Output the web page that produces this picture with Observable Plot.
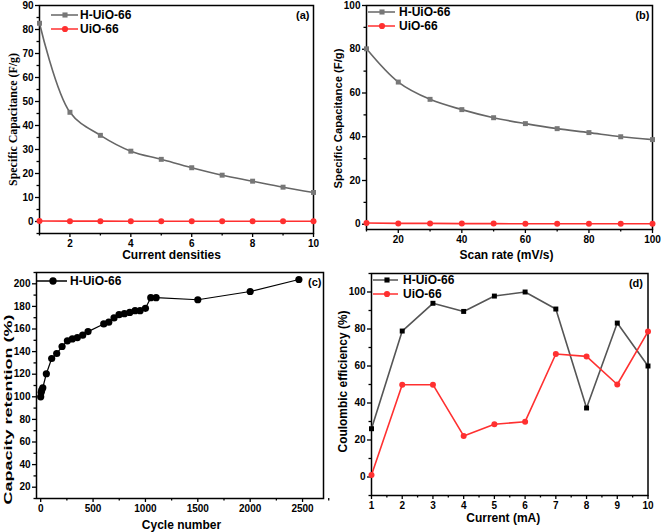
<!DOCTYPE html>
<html><head><meta charset="utf-8">
<script src="https://cdn.jsdelivr.net/npm/d3@7"></script>
<script src="https://cdn.jsdelivr.net/npm/@observablehq/plot@0.6"></script>
<style>
body{margin:0;background:#fff;}
#wrap{position:relative;width:661px;height:532px;overflow:hidden;background:#fff;}
.pane{position:absolute;}
</style></head>
<body><div id="wrap"></div>
<script>
// ---- data ----
const capX = [1,2,3,4,5,6,7,8,9,10];
const capH = [82.6,45.5,35.9,29.3,25.9,22.4,19.3,16.8,14.3,12.1];
const capU = [0.2,0.15,0.15,0.1,0.1,0.1,0.1,0.1,0.1,0.1];
const scanX = [10,20,30,40,50,60,70,80,90,100];
const scanH = [80.2,65,57.1,52.4,48.7,46,43.7,41.9,40,38.7];
const scanU = [0.6,0.4,0.4,0.3,0.3,0.2,0.2,0.2,0.2,0.2];
const cycN = [0,5,10,20,54,105,153,204,255,302,350,401,452,602,650,700,748,799,850,901,949,1000,1051,1102,1500,2000,2465];
const cycR = [100,104,106,108,120.4,133.9,138.3,144.5,149.5,151.2,152.4,154.5,157.7,164.5,166,169.8,172.7,173.6,174.7,176.2,176.2,178.3,187.7,187.7,185.9,193.2,203.8];
const ceX = [1,2,3,4,5,6,7,8,9,10];
const ceH = [26.1,78.9,93.9,89.5,97.8,100,90.8,37.3,83.2,60];
const ceU = [1.1,49.9,49.9,22.2,28.5,29.9,66.5,65.2,50,78.6];
const seriesNames = ["H-UiO-66","UiO-66"];

const GRAY = "#666", RED = "#ff3030";
const toRows = (xs, ys) => xs.map((x,i)=>({x, y: ys[i]}));
const fmt = d3.format("d");

function axes(xt, xm, yt, ym) {
  const common = {label: null, strokeWidth: 1.3, fontSize: 10, fontWeight: "bold"};
  return [
    Plot.axisX({...common, ticks: xt, tickSize: 4, tickPadding: 2, tickFormat: fmt}),
    Plot.axisX({...common, ticks: xm, tickSize: 2.5, tickFormat: () => ""}),
    Plot.axisY({...common, ticks: yt, tickSize: 4, tickPadding: 2, tickFormat: fmt}),
    Plot.axisY({...common, ticks: ym, tickSize: 2.5, tickFormat: () => ""}),
    Plot.frame({stroke: "black", strokeWidth: 1.5})
  ];
}
function legend(items, o) {
  return (index, scales, values, dims) => {
    const g = d3.create("svg:g");
    const L = dims.marginLeft, T = dims.marginTop;
    items.forEach((it, i) => {
      const y = T + o.y0 + i * o.row;
      g.append("line").attr("x1", L + o.x1).attr("x2", L + o.x2).attr("y1", y).attr("y2", y)
        .attr("stroke", it.line).attr("stroke-width", 1.5);
      g.append("path").attr("d", d3.symbol(it.sym === "square" ? d3.symbolSquare : d3.symbolCircle, it.size)())
        .attr("transform", `translate(${L + o.xm},${y})`).attr("fill", it.fill);
      g.append("text").attr("x", L + o.xt).attr("y", y).attr("dy", "0.36em").attr("text-anchor", "start")
        .attr("font-size", o.fs).attr("font-weight", "bold").attr("fill", "black").text(it.label);
    });
    return g.node();
  };
}
function ylab(t, dx, dy, fs, ff) {
  return Plot.text([t], {frameAnchor: "left", rotate: -90, dx, dy, fontSize: fs, fontWeight: "bold", fontFamily: ff || "Liberation Sans", lineAnchor: "middle", textAnchor: "middle"});
}
function xlab(t, dx, dy) {
  return Plot.text([t], {frameAnchor: "bottom", dx, dy, fontSize: 12, fontWeight: "bold", lineAnchor: "middle", textAnchor: "middle"});
}
function tag(t, dx, dy) {
  return Plot.text([t], {frameAnchor: "top-right", dx, dy, fontSize: 11, fontWeight: "bold", lineAnchor: "middle", textAnchor: "end"});
}
function place(svg, left, top) {
  const d = document.createElement("div");
  d.className = "pane"; d.style.left = left + "px"; d.style.top = top + "px";
  d.appendChild(svg); document.getElementById("wrap").appendChild(d);
}
// stretch a (rotated) label along its baseline to the length seen in the reference
function stretchTo(svg, t, len) {
  d3.select(svg).selectAll("text").filter(function(){ return this.textContent === t; }).each(function() {
    const natural = this.getComputedTextLength();
    if (!natural) return;
    const f = len / natural;
    const tr = this.getAttribute("transform") || "";
    this.setAttribute("transform", tr + ` scale(${f},1)`);
  });
}
const style = {fontFamily: "Liberation Sans", fontWeight: "bold", background: "transparent", overflow: "visible", color: "black"};
const range = (a, b, s) => d3.range(a, b + s / 2, s);

// ---- (a) ----
{
  const H = toRows(capX, capH), U = toRows(capX, capU);
  const svg = Plot.plot({
    width: 330, height: 262, marginLeft: 39, marginRight: 17, marginTop: 5, marginBottom: 29, style,
    x: {domain: [1, 10]}, y: {domain: [-5, 90]},
    marks: [
      ...axes([2,4,6,8,10], [1,3,5,7,9], range(0,90,10), range(-5,85,10)),
      Plot.line(H, {x: "x", y: "y", stroke: GRAY, strokeWidth: 1.6, curve: "catmull-rom"}),
      Plot.dot(H, {x: "x", y: "y", symbol: "square", r: 2.8, fill: "#777"}),
      Plot.line(U, {x: "x", y: "y", stroke: RED, strokeWidth: 1.6}),
      Plot.dot(U, {x: "x", y: "y", r: 3, fill: RED}),
      legend([{label: seriesNames[0], line: GRAY, fill: "#777", sym: "square", size: 26},
              {label: seriesNames[1], line: RED, fill: RED, sym: "circle", size: 30}],
             {x1: 12, x2: 39, xm: 26, xt: 41, y0: 10, row: 14, fs: 12}),
      tag("(a)", -4, 10),
      ylab("Specific Capacitance (F/g)", -26, 0, 12, "Liberation Serif"),
      xlab("Current densities", -5, 22)
    ]
  });
  place(svg, 0, 0);
  stretchTo(svg, "Specific Capacitance (F/g)", 133);
}
// ---- (b) ----
{
  const H = toRows(scanX, scanH), U = toRows(scanX, scanU);
  const svg = Plot.plot({
    width: 331, height: 262, marginLeft: 36, marginRight: 9, marginTop: 5, marginBottom: 33, style,
    x: {domain: [10, 100]}, y: {domain: [-2.4, 100]},
    marks: [
      ...axes(range(20,100,20), range(10,90,20), range(0,100,20), range(10,90,20)),
      Plot.line(H, {x: "x", y: "y", stroke: GRAY, strokeWidth: 1.6, curve: "catmull-rom"}),
      Plot.dot(H, {x: "x", y: "y", symbol: "square", r: 2.8, fill: "#777"}),
      Plot.line(U, {x: "x", y: "y", stroke: RED, strokeWidth: 1.6}),
      Plot.dot(U, {x: "x", y: "y", r: 3, fill: RED}),
      legend([{label: seriesNames[0], line: GRAY, fill: "#777", sym: "square", size: 26},
              {label: seriesNames[1], line: RED, fill: RED, sym: "circle", size: 30}],
             {x1: 2, x2: 29, xm: 16, xt: 33, y0: 7, row: 14, fs: 12}),
      tag("(b)", -3, 10),
      ylab("Specific Capacitance (F/g)", -28, 1, 11),
      xlab("Scan rate (mV/s)", -3, 26)
    ]
  });
  place(svg, 330, 0);
  stretchTo(svg, "Specific Capacitance (F/g)", 140);
}
// ---- (c) ----
{
  const R = toRows(cycN, cycR);
  const svg = Plot.plot({
    width: 330, height: 270, marginLeft: 36, marginRight: 7, marginTop: 10, marginBottom: 34, style,
    x: {domain: [-40, 2700]}, y: {domain: [10, 210]},
    marks: [
      ...axes(range(0,2500,500), range(250,2650,500), range(20,200,20), range(10,210,20)),
      Plot.line(R, {x: "x", y: "y", stroke: "black", strokeWidth: 1.2}),
      Plot.dot(R, {x: "x", y: "y", r: 3.6, fill: "black"}),
      legend([{label: seriesNames[0], line: "black", fill: "black", sym: "circle", size: 42}],
             {x1: 0, x2: 31, xm: 17, xt: 34, y0: 9, row: 14, fs: 12}),
      tag("(c)", -2, 10),
      ylab("Capacity retention (%)", -28.5, 24, 11.5),
      xlab("Cycle number", 1.5, 27)
    ]
  });
  place(svg, 0, 262);
  stretchTo(svg, "Capacity retention (%)", 190);
}
// ---- (d) ----
{
  const H = toRows(ceX, ceH), U = toRows(ceX, ceU);
  const svg = Plot.plot({
    width: 331, height: 270, marginLeft: 41, marginRight: 13.5, marginTop: 11, marginBottom: 37, style,
    x: {domain: [1, 10]}, y: {domain: [-10, 110]},
    marks: [
      ...axes(range(1,10,1), range(1.5,9.5,1), range(0,100,20), range(-10,110,20)),
      Plot.line(H, {x: "x", y: "y", stroke: "#555", strokeWidth: 1.6}),
      Plot.dot(H, {x: "x", y: "y", symbol: "square", r: 2.8, fill: "black"}),
      Plot.line(U, {x: "x", y: "y", stroke: RED, strokeWidth: 1.6}),
      Plot.dot(U, {x: "x", y: "y", r: 3, fill: RED}),
      legend([{label: seriesNames[0], line: "#555", fill: "black", sym: "square", size: 26},
              {label: seriesNames[1], line: RED, fill: RED, sym: "circle", size: 30}],
             {x1: 2, x2: 27, xm: 16, xt: 32, y0: 7, row: 14, fs: 12}),
      tag("(d)", -5, 10),
      ylab("Coulombic efficiency (%)", -28, -3, 12),
      xlab("Current (mA)", -6.5, 23)
    ]
  });
  place(svg, 330, 262);
  stretchTo(svg, "Coulombic efficiency (%)", 142);
}
</script></body></html>
